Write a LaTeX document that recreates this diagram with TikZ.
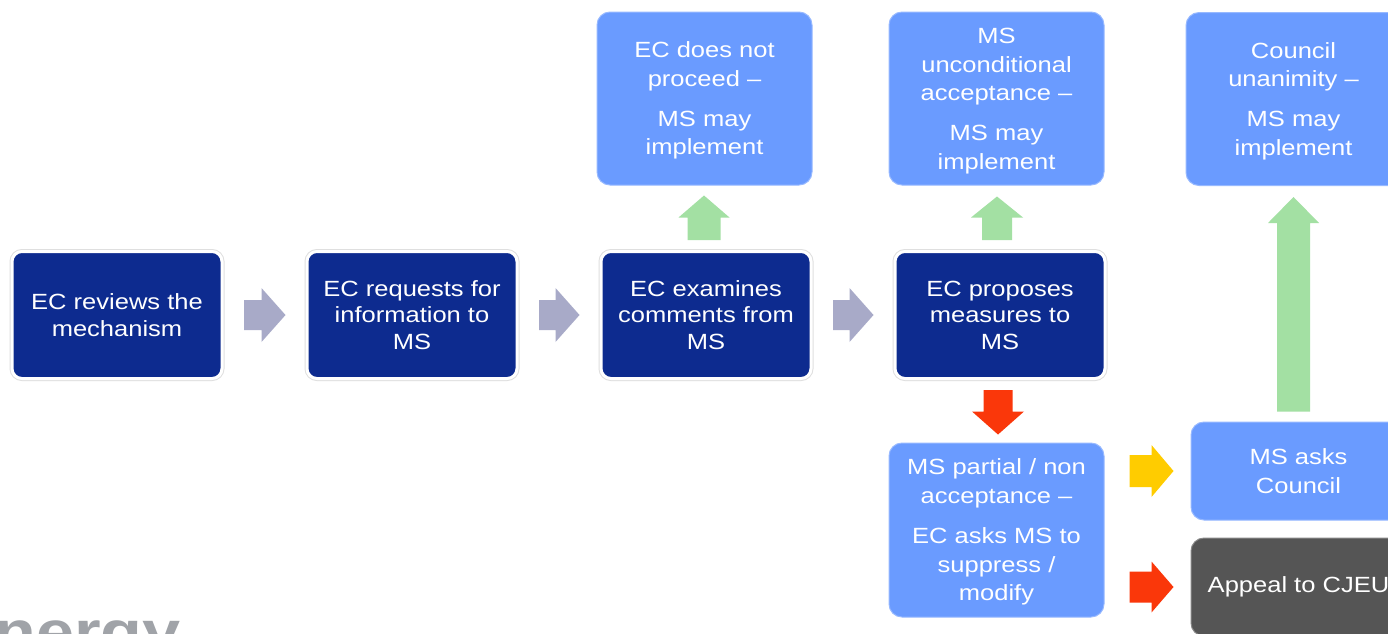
\documentclass[tikz,border=0pt]{standalone}
\usepackage{fontspec}
\setmainfont{Liberation Sans}[FakeStretch=1.16]
\usetikzlibrary{calc}
\definecolor{darkbox}{RGB}{13,43,143}
\definecolor{lightbox}{RGB}{106,155,255}
\definecolor{greybox}{RGB}{85,85,85}
\definecolor{greyarrow}{RGB}{168,170,200}
\definecolor{greenarrow}{RGB}{163,224,163}
\definecolor{redarrow}{RGB}{250,55,10}
\definecolor{yellowarrow}{RGB}{255,204,0}
\definecolor{logogrey}{RGB}{160,163,168}
\newcommand\topgap{\rule{0pt}{20.5pt}}
% block arrow: #1 start, #2 tip, #3 shaft half width, #4 head half width, #5 head length, #6 colour
\newcommand\blockarrow[6]{%
  \path (#2) coordinate (bE) ($(#2)!#5!(#1)$) coordinate (bH) (#1) coordinate (bS);
  \fill[#6] ($(bS)!#3!90:(bE)$) -- ($(bH)!#3!90:(bE)$) -- ($(bH)!#4!90:(bE)$) -- (bE)
    -- ($(bH)!#4!-90:(bE)$) -- ($(bH)!#3!-90:(bE)$) -- ($(bS)!#3!-90:(bE)$) -- cycle;
}
\tikzset{
  darknode/.style={fill=darkbox, draw=white, line width=3pt, rounded corners=10pt,
    preaction={draw=gray!25, line width=5pt}, text=white, align=center, inner sep=0pt,
    minimum width=210pt, minimum height=127pt, font=\fontsize{22}{26.5}\selectfont},
  lightnode/.style={fill=lightbox, draw=lightbox!70!white, line width=1pt, rounded corners=13pt,
    text=white, align=center, inner sep=0pt, minimum width=215pt,
    font=\fontsize{22}{28.5}\selectfont},
  greynode/.style={lightnode, fill=greybox, draw=greybox!70!white},
}
\begin{document}
\begin{tikzpicture}[x=1pt,y=-1pt]
\useasboundingbox (0,0) rectangle (1388,633);
\clip (0,0) rectangle (1388,633);
\fill[white] (0,0) rectangle (1388,633);

% main row
\node[darknode] (b1) at (117,315) {EC reviews the\\mechanism};
\node[darknode] (b2) at (412,315) {EC requests for\\information to\\MS};
\node[darknode] (b3) at (706,315) {EC examines\\comments from\\MS};
\node[darknode] (b4) at (1000,315) {EC proposes\\measures to\\MS};

% top outcomes
\node[lightnode, minimum height=173pt] (tA) at (704.5,98.5) {\topgap EC does not\\proceed --\\[11.5pt]MS may\\implement};
\node[lightnode, minimum height=173pt] (tB) at (996.5,98.5) {\topgap MS\\unconditional\\acceptance --\\[11.5pt]MS may\\implement};
\node[lightnode, minimum height=173pt] (tC) at (1293.5,99) {\topgap Council\\unanimity --\\[11.5pt]MS may\\implement};

% lower branch
\node[lightnode, minimum height=174pt] (pa) at (996.5,530) {\topgap MS partial / non\\acceptance --\\[12pt]EC asks MS to\\suppress /\\modify};
\node[lightnode, minimum height=98pt] (co) at (1298.5,471) {MS asks\\Council};
\node[greynode, minimum height=98pt] (ap) at (1298.5,587) {Appeal to CJEU};

% grey arrows
\blockarrow{$(b1.east)+(20.5,0)$}{$(b2.west)+(-20,0)$}{15pt}{27pt}{24pt}{greyarrow}
\blockarrow{$(b2.east)+(20.5,0)$}{$(b3.west)+(-20,0)$}{15pt}{27pt}{24pt}{greyarrow}
\blockarrow{$(b3.east)+(20.5,0)$}{$(b4.west)+(-20,0)$}{15pt}{27pt}{24pt}{greyarrow}

% green arrows
\blockarrow{$(b3.north)+(-2,-10)$}{$(b3.north |- tA.south)+(-2,10)$}{16.5pt}{25.5pt}{22pt}{greenarrow}
\blockarrow{$(b4.north)+(-3,-10)$}{$(b4.north |- tB.south)+(-3,11)$}{15pt}{26pt}{21pt}{greenarrow}
\blockarrow{$(co.north)+(-5,-10)$}{$(co.north |- tC.south)+(-5,11)$}{16.5pt}{25.5pt}{26pt}{greenarrow}

% red / yellow arrows
\blockarrow{$(b4.south)+(-2,10)$}{$(b4.south |- pa.north)+(-2,-8)$}{14.5pt}{26pt}{23pt}{redarrow}
\blockarrow{$(pa.east |- co.west)+(25,0)$}{$(co.west)+(-17,0)$}{16pt}{26pt}{22pt}{yellowarrow}
\blockarrow{$(pa.east |- ap.west)+(25,0)$}{$(ap.west)+(-17,0)$}{15.5pt}{25.5pt}{22pt}{redarrow}

% logo fragment
\node[anchor=base east, inner sep=0pt, text=logogrey, font=\fontsize{59}{60}\bfseries\selectfont] (logo) at (181,652) {nergy};
\end{tikzpicture}
\end{document}
